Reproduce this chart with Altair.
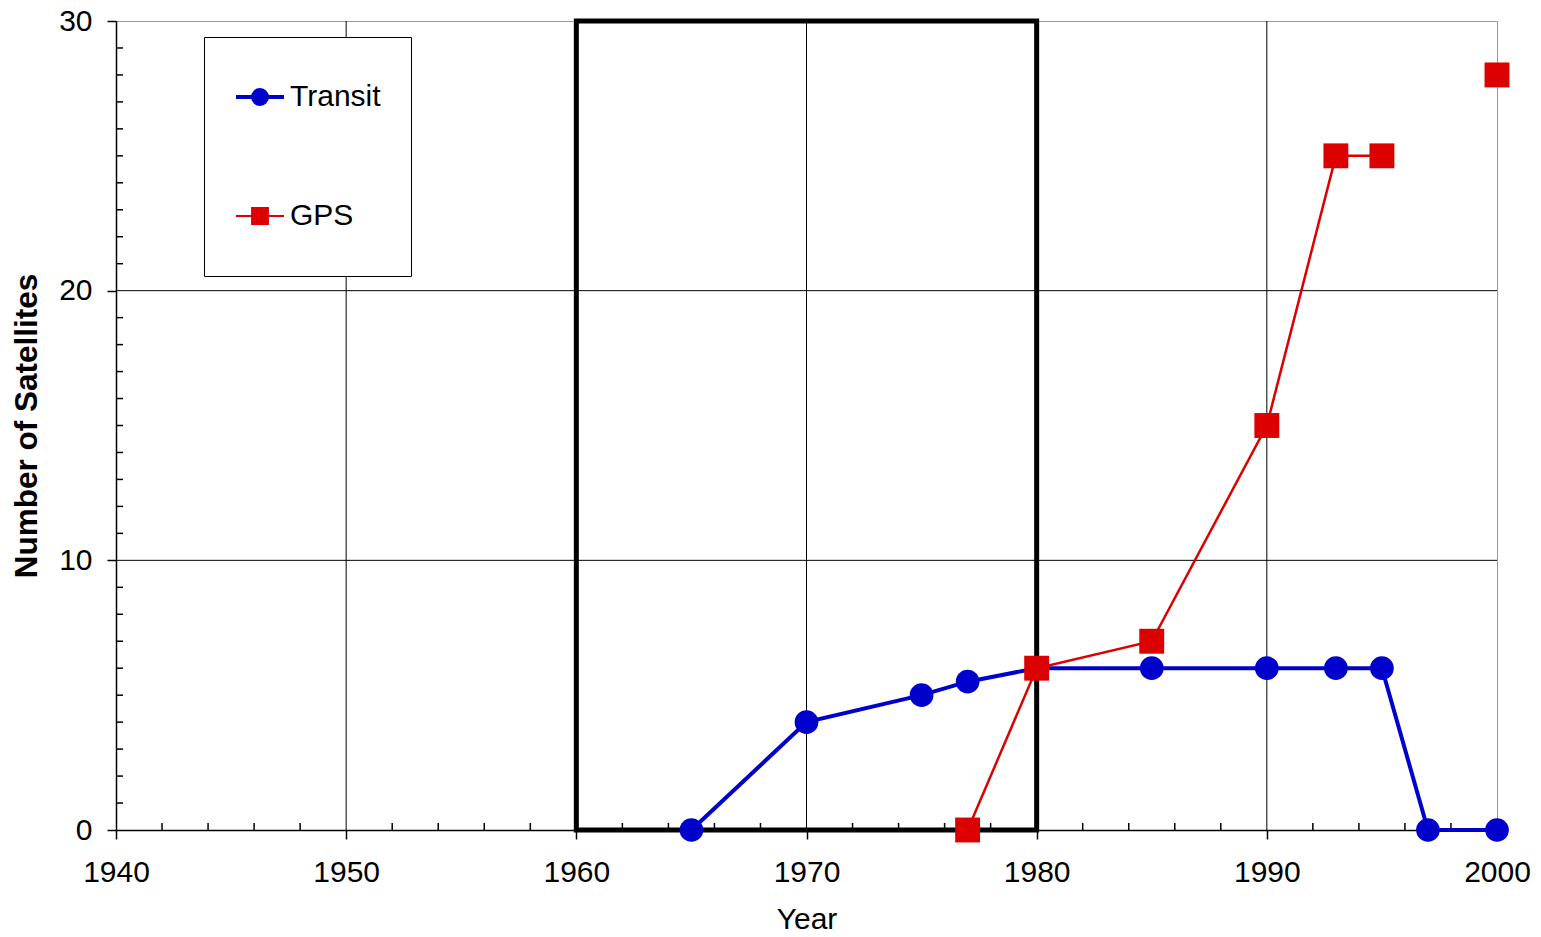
import altair as alt
import pandas as pd

FONT = "Liberation Sans"

# ---- data ----
transit_years = [1965, 1970, 1975, 1977, 1980, 1985, 1990, 1993, 1995, 1997, 2000]
transit_counts = [0, 4, 5, 5.5, 6, 6, 6, 6, 6, 0, 0]

gps_years = [1977, 1980, 1985, 1990, 1993, 1995, 2000]
gps_counts = [0, 6, 7, 15, 25, 25, 28]
gps_segments = [0, 0, 0, 0, 0, 0, 1]

series_names = ["Transit", "GPS"]
series_colors = ["#0000cc", "#dd0000"]
series_widths = [4, 2]

box_years = [1960, 1980]
box_counts = [0, 30]

x_major = [1940, 1950, 1960, 1970, 1980, 1990, 2000]
y_major = [0, 10, 20, 30]
x_grid = [1950, 1960, 1970, 1980, 1990]
y_grid = [10, 20]
x_minor = [y for y in range(1942, 2000, 2) if y % 10 != 0]
y_minor = [v for v in range(1, 30) if v % 10 != 0]

W, H = 1381, 809

df = pd.concat([
    pd.DataFrame({"year": transit_years, "count": transit_counts,
                  "series": "Transit", "seg": 0}),
    pd.DataFrame({"year": gps_years, "count": gps_counts,
                  "series": "GPS", "seg": gps_segments}),
], ignore_index=True)

x_scale = alt.Scale(domain=[1940, 2000], nice=False, zero=False)
y_scale = alt.Scale(domain=[0, 30], nice=False)
color_scale = alt.Scale(domain=series_names, range=series_colors)

# legend glyphs: a line stub with the marker in the middle (unit box -1..1)
T_PATH = "M-1,0L1,0M0.29,0A0.29,0.29,0,1,1,-0.29,0A0.29,0.29,0,1,1,0.29,0Z"
G_PATH = "M-1,0L1,0M-0.33,-0.33L0.33,-0.33L0.33,0.33L-0.33,0.33Z"

legend = alt.Legend(
    title=None, orient="none", legendX=88, legendY=16, direction="vertical",
    padding=30, symbolOffset=0, labelOffset=4, rowPadding=59, clipHeight=60,
    labelFont=FONT, labelFontSize=30, labelColor="black",
    strokeColor="black", fillColor="white", symbolSize=2304, symbolOpacity=1,
)

base = alt.Chart(df)

x_enc = alt.X("year:Q", scale=x_scale, axis=alt.Axis(
    values=x_major, format="d", title="Year", grid=False,
    tickSize=9, tickColor="black", tickWidth=1.5,
    domainColor="black", domainWidth=1.5,
    labelFont=FONT, labelFontSize=30, labelColor="black", labelPadding=18,
    labelFlush=False,
    titleFont=FONT, titleFontSize=30, titleFontWeight="normal",
    titleColor="black", titlePadding=17))
y_enc = alt.Y("count:Q", scale=y_scale, axis=alt.Axis(
    values=y_major, title="Number of Satellites", grid=False,
    tickSize=9, tickColor="black", tickWidth=1.5,
    domainColor="black", domainWidth=1.5,
    labelFont=FONT, labelFontSize=30, labelColor="black", labelPadding=15,
    labelFlush=False,
    titleFont=FONT, titleFontSize=31.5, titleFontWeight="bold",
    titleColor="black", titlePadding=15))

# grid rules
xgrid = alt.Chart(pd.DataFrame({"year": x_grid})).mark_rule(
    color="black", strokeWidth=1).encode(x=alt.X("year:Q", scale=x_scale))
ygrid = alt.Chart(pd.DataFrame({"count": y_grid})).mark_rule(
    color="black", strokeWidth=1).encode(y=alt.Y("count:Q", scale=y_scale))

# inward minor ticks
xminor = alt.Chart(pd.DataFrame({"year": x_minor})).mark_rule(
    color="black", strokeWidth=1.5).encode(
    x=alt.X("year:Q", scale=x_scale), y=alt.value(H - 7), y2=alt.value(H))
yminor = alt.Chart(pd.DataFrame({"count": y_minor})).mark_rule(
    color="black", strokeWidth=1.5).encode(
    y=alt.Y("count:Q", scale=y_scale), x=alt.value(0), x2=alt.value(7))

# highlighted box
box = alt.Chart(pd.DataFrame({"x0": [box_years[0]], "x1": [box_years[1]],
                              "y0": [box_counts[0]], "y1": [box_counts[1]]})).mark_rect(
    fill=None, stroke="black", strokeWidth=5).encode(
    x=alt.X("x0:Q", scale=x_scale), x2="x1:Q",
    y=alt.Y("y0:Q", scale=y_scale), y2="y1:Q")

axes_layer = base.mark_point(opacity=0).encode(x=x_enc, y=y_enc)

# legend-carrying layer: invisible marks, legend built from explicit scales
legend_layer = base.mark_point(opacity=0, size=2304).encode(
    x=alt.X("year:Q", scale=x_scale), y=alt.Y("count:Q", scale=y_scale),
    fill=alt.Fill("series:N", scale=alt.Scale(domain=series_names, range=series_colors), legend=legend),
    stroke=alt.Stroke("series:N", scale=alt.Scale(domain=series_names, range=series_colors), legend=legend),
    shape=alt.Shape("series:N", scale=alt.Scale(domain=series_names, range=[T_PATH, G_PATH]), legend=legend),
    strokeWidth=alt.StrokeWidth("series:N", scale=alt.Scale(type="ordinal", domain=series_names, range=series_widths), legend=legend),
)

transit_line = base.transform_filter("datum.series === 'Transit'").mark_line(
    strokeWidth=4).encode(
    x=alt.X("year:Q", scale=x_scale), y=alt.Y("count:Q", scale=y_scale),
    color=alt.Color("series:N", scale=color_scale, legend=None), detail="seg:N")
transit_pts = base.transform_filter("datum.series === 'Transit'").mark_point(
    filled=True, shape="circle", size=560, opacity=1).encode(
    x=alt.X("year:Q", scale=x_scale), y=alt.Y("count:Q", scale=y_scale),
    color=alt.Color("series:N", scale=color_scale, legend=None))
gps_line = base.transform_filter("datum.series === 'GPS'").mark_line(
    strokeWidth=2.5).encode(
    x=alt.X("year:Q", scale=x_scale), y=alt.Y("count:Q", scale=y_scale),
    color=alt.Color("series:N", scale=color_scale, legend=None), detail="seg:N")
gps_pts = base.transform_filter("datum.series === 'GPS'").mark_point(
    filled=True, shape="square", size=620, opacity=1).encode(
    x=alt.X("year:Q", scale=x_scale), y=alt.Y("count:Q", scale=y_scale),
    color=alt.Color("series:N", scale=color_scale, legend=None))

chart = alt.layer(
    axes_layer, legend_layer, xgrid, ygrid, xminor, yminor, box,
    transit_line, transit_pts, gps_line, gps_pts,
).properties(
    width=W, height=H,
    autosize=alt.AutoSizeParams(type="none"),
    padding={"left": 116, "top": 21, "right": 44, "bottom": 107},
    background="white",
).configure_view(stroke="#999999", strokeWidth=1)

chart.save("out.html", embed_options={"renderer": "svg", "actions": False})
